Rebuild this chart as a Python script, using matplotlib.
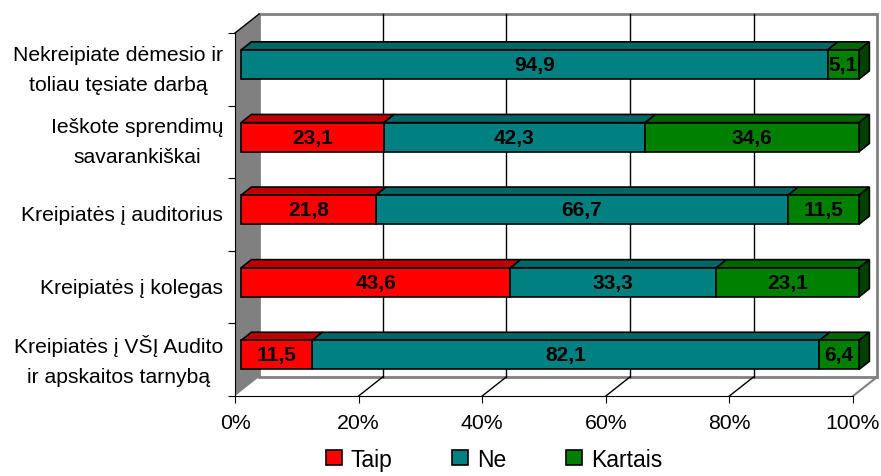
import matplotlib.pyplot as plt
from matplotlib.patches import Polygon, Rectangle, Patch
from matplotlib.transforms import blended_transform_factory

plt.rcParams['font.family'] = ['Liberation Sans', 'DejaVu Sans']

categories = [
    "Kreipiatės į VŠĮ Audito\nir apskaitos tarnybą",
    "Kreipiatės į kolegas",
    "Kreipiatės į auditorius",
    "Ieškote sprendimų\nsavarankiškai",
    "Nekreipiate dėmesio ir\ntoliau tęsiate darbą",
]
taip = [11.5, 43.6, 21.8, 23.1, 0.0]
ne = [82.1, 33.3, 66.7, 42.3, 94.9]
kartais = [6.4, 23.1, 11.5, 34.6, 5.1]

series = [
    ("Taip", taip, "#ff0000", "#c00000", "#900000"),
    ("Ne", ne, "#008080", "#006666", "#004c4c"),
    ("Kartais", kartais, "#008000", "#006600", "#004000"),
]
x_ticks = [0, 20, 40, 60, 80, 100]
x_labels = ["0%", "20%", "40%", "60%", "80%", "100%"]

fig = plt.figure(figsize=(8.81, 4.77), dpi=100)
ax = fig.add_axes([235 / 881, 80 / 477, 618 / 881, 363 / 477])
ax.set_xlim(0, 100)
ax.set_ylim(-0.5, 4.5)

# depth of the 3D box, in data units
dx, dy = 3.9, 0.262
# bars sit between these fractions of the depth
f0, f1 = 0.25, 0.68
bar_h = 0.4

# back wall
ax.add_patch(Rectangle((dx, -0.5 + dy), 100, 5, facecolor="white",
                       edgecolor="#808080", lw=2, zorder=0.5, clip_on=False))
for xt in x_ticks[1:-1]:
    ax.plot([xt + dx, xt + dx], [-0.5 + dy, 4.5 + dy], color="black", lw=1,
            zorder=0.6, clip_on=False)
    ax.plot([xt, xt + dx], [-0.5, -0.5 + dy], color="black", lw=1,
            zorder=0.6, clip_on=False)
ax.plot([100, 100 + dx], [-0.5, -0.5 + dy], color="#808080", lw=1.5,
        zorder=0.6, clip_on=False)

# left side wall
ax.add_patch(Polygon([(0, -0.5), (dx, -0.5 + dy), (dx, 4.5 + dy), (0, 4.5)],
                     closed=True, facecolor="#808080", edgecolor="none",
                     zorder=0.7, clip_on=False))
ax.plot([0, dx], [4.5, 4.5 + dy], color="black", lw=1, zorder=0.8,
        clip_on=False)

# stacked 3D bars
ox, oy = f0 * dx, f0 * dy
bx, by = (f1 - f0) * dx, (f1 - f0) * dy
for i in range(len(categories)):
    left = 0.0
    last = max(k for k, s in enumerate(series) if s[1][i] > 0)
    for k, (name, vals, face, top, side) in enumerate(series):
        v = vals[i]
        if v <= 0:
            continue
        x0 = left + ox
        y0 = i - bar_h / 2 + oy
        y1 = y0 + bar_h
        ax.add_patch(Polygon([(x0, y1), (x0 + v, y1), (x0 + v + bx, y1 + by),
                              (x0 + bx, y1 + by)], closed=True,
                             facecolor=top, edgecolor="black", lw=1.2,
                             zorder=2, clip_on=False))
        if k == last:
            ax.add_patch(Polygon([(x0 + v, y0), (x0 + v + bx, y0 + by),
                                  (x0 + v + bx, y1 + by), (x0 + v, y1)],
                                 closed=True, facecolor=side,
                                 edgecolor="black", lw=1.2, zorder=2,
                                 clip_on=False))
        ax.add_patch(Rectangle((x0, y0), v, bar_h, facecolor=face,
                               edgecolor="black", lw=1.2, zorder=3,
                               clip_on=False))
        ax.text(x0 + v / 2, (y0 + y1) / 2, f"{v:.1f}".replace(".", ","),
                ha="center", va="center", fontsize=15, fontweight="bold",
                color="black", zorder=4)
        left += v

# axes
for s in ["top", "right"]:
    ax.spines[s].set_visible(False)
ax.spines["left"].set_color("black")
ax.spines["bottom"].set_color("black")
ax.set_xticks(x_ticks, x_labels, fontsize=15.3)
ax.tick_params(axis="x", direction="out", length=5, pad=7)
ax.set_yticks([y - 0.5 for y in range(6)], [""] * 6)
ax.tick_params(axis="y", direction="out", length=5)

# category names, centred line by line
trans = blended_transform_factory(ax.transAxes, ax.transData)
for i, name in enumerate(categories):
    ax.text(-0.019, i, name, transform=trans, ha="right", va="center",
            multialignment="center", fontsize=15.2, linespacing=1.72)

handles = [Patch(facecolor=s[2], edgecolor="black", lw=1.2) for s in series]
fig.legend(handles, [s[0] for s in series], loc="lower center",
           bbox_to_anchor=(0.561, -0.032), ncol=3, frameon=False,
           fontsize=16.5, handlelength=0.7, handleheight=0.65,
           handletextpad=0.4, columnspacing=2.6)

fig.savefig("out.png", dpi=100)
